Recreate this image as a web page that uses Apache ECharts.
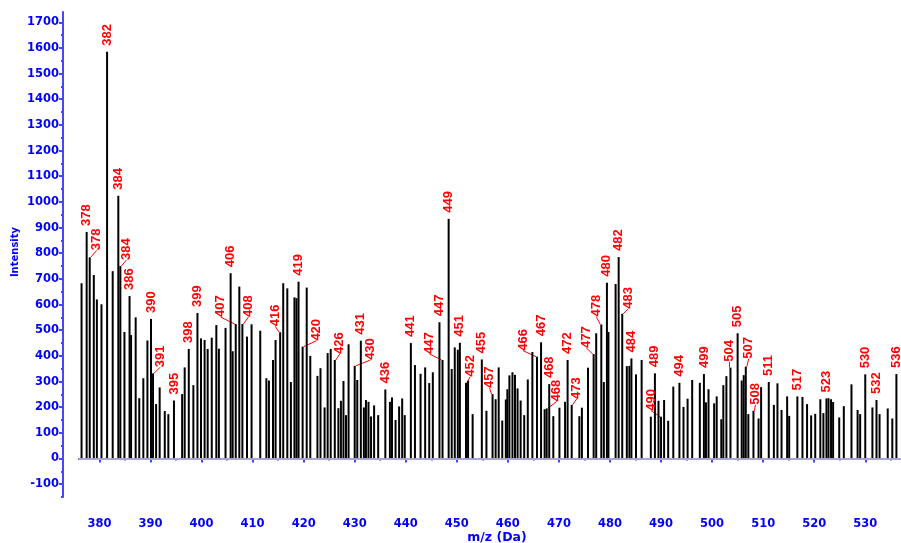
<!DOCTYPE html>
<html>
<head>
<meta charset="utf-8">
<script src="https://cdn.jsdelivr.net/npm/echarts@6/dist/echarts.min.js"></script>
<style>
html, body { margin: 0; padding: 0; background: #fff; }
#m1 { width: 901px; height: 543px; }
</style>
</head>
<body>
<div id="m1"></div>
<script>
// peaks: m/z and intensity
var mz = [376.5, 377.5, 378.1, 378.9, 379.5, 380.4, 381.5, 382.6, 383.7, 384.1, 384.9, 385.9, 386.2, 387.1, 387.8, 388.6, 389.4, 390.1, 390.5, 391.1,
  391.8, 392.8, 393.5, 394.6, 396.2, 396.7, 397.5, 398.4, 399.2, 399.9, 400.6, 401.2, 402.0, 402.9, 403.4, 404.7, 405.7, 406.1, 406.7, 407.4,
  408.0, 408.9, 409.8, 411.5, 412.7, 413.2, 414.0, 414.5, 415.4, 416.0, 416.8, 417.5, 418.2, 418.6, 419.0, 419.8, 420.6, 421.3, 422.7, 423.3,
  424.1, 424.7, 425.3, 426.1, 426.8, 427.3, 427.8, 428.3, 428.8, 430.0, 430.5, 431.2, 431.8, 432.2, 432.7, 433.2, 433.8, 434.6, 436.0, 436.9,
  437.3, 438.0, 438.7, 439.3, 439.8, 441.0, 441.8, 442.9, 443.8, 444.6, 445.3, 446.6, 447.2, 448.4, 449.0, 449.6, 450.2, 450.6, 451.8, 452.2,
  453.1, 454.9, 455.8, 457.0, 457.6, 458.2, 458.9, 459.6, 459.9, 460.3, 460.9, 461.4, 461.9, 462.5, 463.2, 463.9, 464.8, 465.7, 466.5, 467.2,
  467.6, 468.1, 468.9, 470.1, 471.2, 471.7, 472.5, 474.0, 474.5, 475.7, 476.8, 477.3, 478.3, 478.8, 479.4, 479.7, 481.1, 481.7, 482.4, 483.3,
  483.8, 484.2, 485.1, 486.2, 488.0, 488.8, 489.5, 490.0, 490.6, 491.4, 492.4, 493.6, 494.4, 495.2, 496.1, 497.6, 498.4, 498.8, 499.3, 500.4,
  500.9, 501.8, 502.2, 502.8, 503.6, 505.0, 505.8, 506.2, 506.6, 507.1, 508.1, 509.1, 509.6, 511.1, 512.1, 512.8, 513.6, 514.7, 515.1, 516.7,
  517.7, 518.6, 519.4, 520.2, 521.2, 521.8, 522.4, 522.8, 523.3, 523.7, 524.9, 525.8, 527.3, 528.5, 529.0, 530.0, 531.4, 532.2, 532.8, 534.4,
  535.3, 536.1];
var intensity = [683, 883, 784, 715, 620, 601, 1585, 730, 1024, 750, 493, 633, 481, 550, 235, 313, 460, 544, 332, 212,
  277, 185, 173, 226, 251, 355, 427, 286, 567, 468, 462, 427, 471, 520, 428, 509, 722, 418, 524, 670,
  524, 475, 523, 498, 313, 304, 384, 462, 492, 683, 663, 298, 628, 625, 689, 436, 666, 400, 322, 352,
  199, 411, 427, 384, 196, 225, 302, 169, 445, 361, 306, 459, 199, 228, 221, 164, 207, 169, 269, 221,
  238, 150, 203, 234, 169, 450, 364, 330, 355, 294, 336, 531, 384, 934, 349, 433, 424, 451, 295, 303,
  173, 386, 186, 251, 231, 355, 148, 230, 270, 324, 336, 326, 273, 226, 169, 308, 415, 397, 453, 192,
  195, 290, 165, 198, 221, 384, 209, 165, 198, 354, 407, 488, 522, 298, 685, 493, 680, 785, 564, 360,
  361, 390, 328, 384, 163, 332, 225, 163, 228, 147, 280, 295, 201, 233, 306, 295, 329, 219, 270, 215,
  242, 153, 286, 321, 354, 488, 304, 325, 358, 173, 186, 156, 278, 298, 209, 293, 189, 242, 166, 242,
  240, 212, 168, 174, 231, 177, 234, 235, 231, 220, 160, 204, 289, 189, 173, 328, 199, 228, 173, 195,
  156, 329];

// annotated peaks
var labelMz = [377.5, 378.1, 381.5, 383.7, 384.1, 385.9, 390.1, 390.5, 394.6, 397.5, 399.2, 405.7, 406.7, 408.0, 415.4, 419.0, 419.8, 426.1,
  430.0, 431.2, 436.0, 441.0, 446.6, 447.2, 448.4, 450.6, 451.8, 454.9, 457.0, 465.7, 466.5, 467.6, 468.1, 471.7, 472.5, 476.8, 478.3,
  479.4, 481.7, 482.4, 484.2, 488.8, 490.0, 493.6, 498.4, 503.6, 505.0, 506.6, 508.1, 511.1, 516.7, 522.4, 530.0, 532.2, 536.1];
var labelText = ['378', '378', '382', '384', '384', '386', '390', '391', '395', '398', '399', '406', '407', '408', '416', '419', '420', '426',
  '430', '431', '436', '441', '447', '447', '449', '451', '452', '455', '457', '466', '467', '468', '468', '472', '473', '477', '478',
  '480', '482', '483', '484', '489', '490', '494', '499', '504', '505', '507', '508', '511', '517', '523', '530', '532', '536'];

var yTicks = [-100, 0, 100, 200, 300, 400, 500, 600, 700, 800, 900, 1000, 1100, 1200, 1300, 1400, 1500, 1600, 1700];
var yMinorTicks = [-150, -50, 50, 150, 250, 350, 450, 550, 650, 750, 850, 950, 1050, 1150, 1250, 1350, 1450, 1550, 1650];
var xTicks = [380, 390, 400, 410, 420, 430, 440, 450, 460, 470, 480, 490, 500, 510, 520, 530];
var xMinorTicks = [385, 395, 405, 415, 425, 435, 445, 455, 465, 475, 485, 495, 505, 515, 525, 535];

// labels pushed aside with a leader line (screen px: right, down)
var labelShift = {
  '378.1': [7, -1], '384.1': [6, 0], '390.5': [7, 0], '406.7': [-15, -1], '408': [6, -1], '415.4': [-5, 0],
  '419.8': [14, 0], '426.1': [5, 0], '430': [16, 0], '447.2': [-13, 0], '451.8': [4, 0], '457': [-3, 0],
  '465.7': [-14, 0], '467.6': [10, -1], '472.5': [5, 0], '476.8': [-7, 0], '478.3': [-5, -2], '482.4': [6, 1],
  '490': [-10, 0], '503.6': [-1, 0], '506.6': [3, -2], '508.1': [2, 0]
};

var blue = '#0000ff';
var axisBlue = '#4646ff';

var barData = mz.map(function (m, i) {
  var item = { value: [m, intensity[i]] };
  var k = labelMz.indexOf(m);
  if (k >= 0) {
    item.label = { show: true, formatter: labelText[k] };
    if (labelShift[String(m)]) {
      item.labelLine = { show: true, lineStyle: { color: '#ff0000', width: 1 } };
    }
  }
  return item;
});

var myChart = echarts.init(document.getElementById('m1'));
var option = {
  animation: false,
  grid: { left: 79, right: 0, top: 12, bottom: 46 },
  xAxis: [{
    type: 'value', min: 376, max: 537, position: 'bottom', offset: 16,
    axisLine: { show: true, lineStyle: { color: axisBlue, width: 2 } },
    axisTick: { show: true, length: 4, customValues: xTicks, lineStyle: { color: axisBlue, width: 2 } },
    axisLabel: { customValues: xTicks, margin: 5, color: blue, fontFamily: 'DejaVu Sans', fontWeight: 'bold', fontSize: 11.5,
      formatter: function (v) { return String(v); } },
    splitLine: { show: false }
  }, {
    type: 'value', min: 376, max: 537, position: 'bottom', offset: 16,
    axisLine: { show: false },
    axisTick: { show: true, length: 2, customValues: xMinorTicks, lineStyle: { color: axisBlue, width: 2 } },
    axisLabel: { show: false },
    splitLine: { show: false }
  }],
  yAxis: [{
    type: 'value', min: -150, max: 1740, position: 'left', offset: 16,
    axisLine: { show: true, lineStyle: { color: axisBlue, width: 2 } },
    axisTick: { show: true, length: 4, customValues: yTicks, lineStyle: { color: axisBlue, width: 2 } },
    axisLabel: { customValues: yTicks, margin: 4, color: blue, fontFamily: 'DejaVu Sans', fontWeight: 'bold', fontSize: 11.5,
      formatter: function (v) { return String(v); } },
    splitLine: { show: false }
  }, {
    type: 'value', min: -150, max: 1740, position: 'left', offset: 16,
    axisLine: { show: false },
    axisTick: { show: true, length: 2, customValues: yMinorTicks, lineStyle: { color: axisBlue, width: 2 } },
    axisLabel: { show: false },
    splitLine: { show: false }
  }],
  graphic: [{
    type: 'text', x: 15, y: 252, rotation: Math.PI / 2,
    style: { text: 'Intensity', fill: blue, font: 'bold 10px "DejaVu Sans"', textAlign: 'center', textVerticalAlign: 'middle' }
  }, {
    type: 'text', x: 497, y: 538,
    style: { text: 'm/z (Da)', fill: blue, font: 'bold 12.5px "DejaVu Sans"', textAlign: 'center', textVerticalAlign: 'middle' }
  }],
  series: [{
    type: 'bar',
    xAxisIndex: 0,
    yAxisIndex: 0,
    barWidth: 2,
    itemStyle: { color: '#000' },
    label: {
      show: false, position: 'top', distance: 6, rotate: 90, align: 'left', verticalAlign: 'middle',
      color: '#ff0000', fontFamily: 'Liberation Sans', fontWeight: 'bold', fontSize: 13
    },
    // the offset is applied in the label's rotated frame, so swap the axes
    labelLayout: function (params) {
      var s = labelShift[String(mz[params.dataIndex])];
      if (s) return { dx: -s[1], dy: s[0] };
    },
    markLine: {
      silent: true, symbol: 'none', label: { show: false },
      lineStyle: { color: '#c8c8c8', width: 1.5, type: 'solid' },
      data: [{ yAxis: 0 }]
    },
    data: barData
  }]
};
myChart.setOption(option);
</script>
</body>
</html>
